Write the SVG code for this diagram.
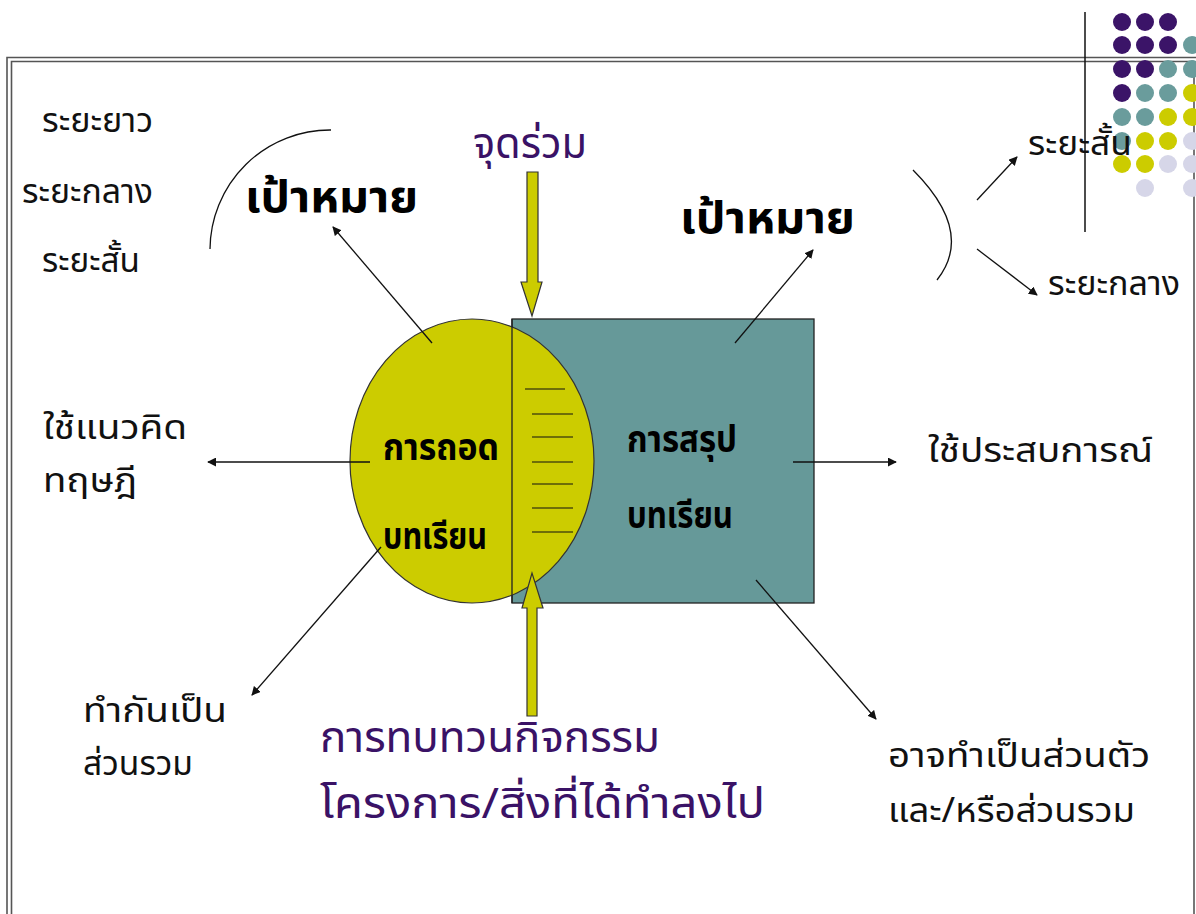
<svg xmlns="http://www.w3.org/2000/svg" width="1196" height="914" viewBox="0 0 1196 914">
<style>
.lbl{font-family:"Noto Sans Thai","DejaVu Sans",sans-serif;font-size:34px;fill:#111}
.goal{font-family:"Noto Sans Thai","DejaVu Sans",sans-serif;font-size:44px;font-weight:bold;fill:#000}
.core{font-family:"Noto Sans Thai","Noto Sans","DejaVu Sans",sans-serif;font-size:38px;font-weight:bold;fill:#000}
.pur{font-family:"Noto Sans Thai","DejaVu Sans",sans-serif;font-size:42px;fill:#3a1266}
.conn{stroke:#111;stroke-width:1.3;fill:none}
.hatch{stroke:#111;stroke-width:1.2}
.big{fill:#cccc00;stroke:#333;stroke-width:1.2}
</style>
<defs>
<marker id="ah" viewBox="0 0 10 10" refX="9" refY="5" markerWidth="9" markerHeight="9" markerUnits="userSpaceOnUse" orient="auto">
<path d="M0,0 L10,5 L0,10 z" fill="#111"/>
</marker>
</defs>
<rect width="1196" height="914" fill="#fff"/>
<g id="frame" fill="none" stroke="#555" stroke-width="1.6">
<path d="M7,914 V57.5 H1196"/>
<path d="M11.5,914 V61.5 H1194"/>
<path d="M1194,61.5 V914"/>
</g>
<g id="dots">
<circle cx="1122" cy="22" r="9" fill="#3b1468"/><circle cx="1145" cy="22" r="9" fill="#3b1468"/><circle cx="1168" cy="22" r="9" fill="#3b1468"/>
<circle cx="1122" cy="45" r="9" fill="#3b1468"/><circle cx="1145" cy="45" r="9" fill="#3b1468"/><circle cx="1168" cy="45" r="9" fill="#3b1468"/><circle cx="1192" cy="45" r="9" fill="#6a9c9c"/>
<circle cx="1122" cy="69" r="9" fill="#3b1468"/><circle cx="1145" cy="69" r="9" fill="#3b1468"/><circle cx="1168" cy="69" r="9" fill="#6a9c9c"/><circle cx="1192" cy="69" r="9" fill="#6a9c9c"/>
<circle cx="1122" cy="93" r="9" fill="#3b1468"/><circle cx="1145" cy="93" r="9" fill="#6a9c9c"/><circle cx="1168" cy="93" r="9" fill="#6a9c9c"/><circle cx="1192" cy="93" r="9" fill="#cccc00"/>
<circle cx="1122" cy="117" r="9" fill="#6a9c9c"/><circle cx="1145" cy="117" r="9" fill="#6a9c9c"/><circle cx="1168" cy="117" r="9" fill="#cccc00"/><circle cx="1192" cy="117" r="9" fill="#cccc00"/>
<circle cx="1122" cy="141" r="9" fill="#6a9c9c"/><circle cx="1145" cy="141" r="9" fill="#cccc00"/><circle cx="1168" cy="141" r="9" fill="#cccc00"/><circle cx="1192" cy="141" r="9" fill="#d6d6e8"/>
<circle cx="1122" cy="164" r="9" fill="#cccc00"/><circle cx="1145" cy="164" r="9" fill="#cccc00"/><circle cx="1168" cy="164" r="9" fill="#d6d6e8"/><circle cx="1192" cy="164" r="9" fill="#d6d6e8"/>
<circle cx="1145" cy="188" r="9" fill="#d6d6e8"/><circle cx="1192" cy="188" r="9" fill="#d6d6e8"/>
</g>
<line x1="1085" y1="12" x2="1085" y2="232" stroke="#111" stroke-width="1.5"/>
<g id="summary">
<rect x="512" y="319" width="302" height="284" fill="#669999" stroke="#222" stroke-width="1.3"/>
</g>
<g id="extract">
<ellipse cx="472" cy="461" rx="122" ry="142" fill="#cccc00" stroke="#333" stroke-width="1.2"/>
</g>
<g id="overlap">
<line x1="512" y1="319" x2="512" y2="603" stroke="#222" stroke-width="1.3"/>
<line class="hatch" x1="525" y1="389" x2="565" y2="389"/>
<line class="hatch" x1="532" y1="414" x2="573" y2="414"/>
<line class="hatch" x1="532" y1="437" x2="573" y2="437"/>
<line class="hatch" x1="532" y1="462" x2="573" y2="462"/>
<line class="hatch" x1="532" y1="484" x2="573" y2="484"/>
<line class="hatch" x1="532" y1="508" x2="573" y2="508"/>
<line class="hatch" x1="532" y1="532" x2="573" y2="532"/>
</g>
<g id="extract-label">
<text class="core" x="383" y="460" textLength="116" lengthAdjust="spacingAndGlyphs">การถอด</text>
<text class="core" x="383" y="549" textLength="104" lengthAdjust="spacingAndGlyphs">บทเรียน</text>
</g>
<g id="summary-label">
<text class="core" x="627" y="452" textLength="110" lengthAdjust="spacingAndGlyphs">การสรุป</text>
<text class="core" x="627" y="528" textLength="106" lengthAdjust="spacingAndGlyphs">บทเรียน</text>
</g>
<g id="arrow-common">
<path class="big" d="M527,172 H538 V282 H542 L532,316 L521,282 H527 Z"/>
</g>
<g id="arrow-review">
<path class="big" d="M527,716 H537 V608 H543 L532,573 L522,608 H527 Z"/>
</g>
<g id="connectors">
<path class="conn" d="M331,130 A120,120 0 0 0 210,249"/>
<path class="conn" d="M913,170 Q975,232 937,280"/>
<line class="conn" x1="432" y1="343" x2="333" y2="227" marker-end="url(#ah)"/>
<line class="conn" x1="735" y1="343" x2="813" y2="250" marker-end="url(#ah)"/>
<line class="conn" x1="977" y1="200" x2="1017" y2="157" marker-end="url(#ah)"/>
<line class="conn" x1="977" y1="249" x2="1037" y2="295" marker-end="url(#ah)"/>
<line class="conn" x1="370" y1="462" x2="208" y2="462" marker-end="url(#ah)"/>
<line class="conn" x1="381" y1="547" x2="252" y2="695" marker-end="url(#ah)"/>
<line class="conn" x1="793" y1="462" x2="896" y2="462" marker-end="url(#ah)"/>
<line class="conn" x1="756" y1="580" x2="876" y2="719" marker-end="url(#ah)"/>
</g>
<g id="labels">
<text class="lbl" x="42" y="132" textLength="111" lengthAdjust="spacingAndGlyphs">ระยะยาว</text>
<text class="lbl" x="22" y="203" textLength="131" lengthAdjust="spacingAndGlyphs">ระยะกลาง</text>
<text class="lbl" x="42" y="272" textLength="98" lengthAdjust="spacingAndGlyphs">ระยะสั้น</text>
<text class="goal" x="245" y="212" textLength="173" lengthAdjust="spacingAndGlyphs">เป้าหมาย</text>
<text class="goal" x="680" y="233" textLength="175" lengthAdjust="spacingAndGlyphs">เป้าหมาย</text>
<text class="pur" x="473" y="158" textLength="114" lengthAdjust="spacingAndGlyphs">จุดร่วม</text>
<text class="lbl" x="1028" y="155" textLength="104" lengthAdjust="spacingAndGlyphs">ระยะสั้น</text>
<text class="lbl" x="1048" y="295" textLength="132" lengthAdjust="spacingAndGlyphs">ระยะกลาง</text>
<text class="lbl" x="43" y="439" textLength="144" lengthAdjust="spacingAndGlyphs">ใช้แนวคิด</text>
<text class="lbl" x="43" y="492" textLength="94" lengthAdjust="spacingAndGlyphs">ทฤษฎี</text>
<text class="lbl" x="928" y="462" textLength="225" lengthAdjust="spacingAndGlyphs">ใช้ประสบการณ์</text>
<text class="lbl" x="83" y="722" textLength="144" lengthAdjust="spacingAndGlyphs">ทำกันเป็น</text>
<text class="lbl" x="83" y="775" textLength="110" lengthAdjust="spacingAndGlyphs">ส่วนรวม</text>
<text class="lbl" x="888" y="767" textLength="262" lengthAdjust="spacingAndGlyphs">อาจทำเป็นส่วนตัว</text>
<text class="lbl" x="888" y="822" textLength="247" lengthAdjust="spacingAndGlyphs">และ/หรือส่วนรวม</text>
<text class="pur" x="320" y="752" textLength="340" lengthAdjust="spacingAndGlyphs">การทบทวนกิจกรรม</text>
<text class="pur" x="320" y="818" textLength="445" lengthAdjust="spacingAndGlyphs">โครงการ/สิ่งที่ได้ทำลงไป</text>
</g>
</svg>
